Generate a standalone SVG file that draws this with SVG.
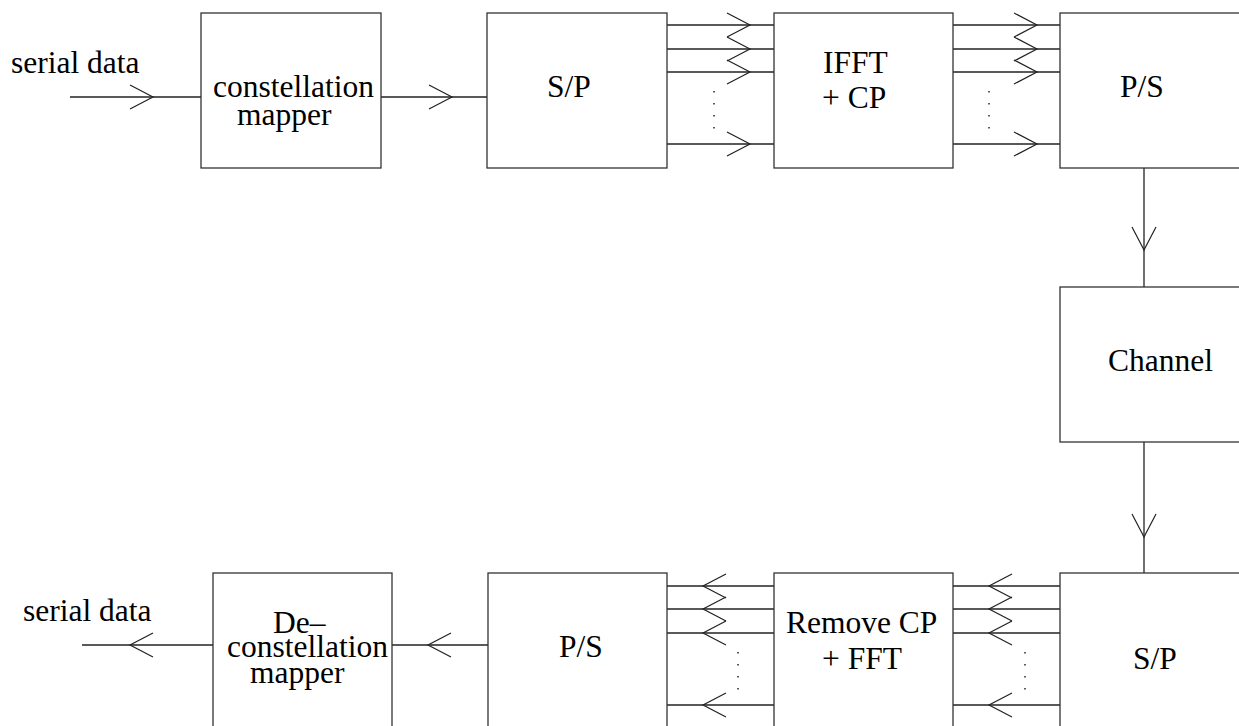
<svg xmlns="http://www.w3.org/2000/svg" width="1239" height="726" viewBox="0 0 1239 726">
<style>
.box{fill:#fff;stroke:#333;stroke-width:1.3}
.ln{stroke:#222;stroke-width:1.3;fill:none}
.ah{stroke:#222;stroke-width:1.2;fill:none}
.dot{stroke:#333;stroke-width:1.6;fill:none;stroke-dasharray:1.5 10.5}
.t{font-family:'Liberation Serif',serif;font-size:31.5px;fill:#000}
</style>
<defs>
<path id="ah" class="ah" d="M-23,-12 L0,0 L-23,12"/>
</defs>
<rect width="1239" height="726" fill="#fff"/>
<g id="connectors">
<line class="ln" x1="70" y1="97" x2="201" y2="97"/>
<use href="#ah" transform="translate(153,97)"/>
<line class="ln" x1="381" y1="97" x2="487" y2="97"/>
<use href="#ah" transform="translate(452,97)"/>
<line class="ln" x1="667" y1="25" x2="774" y2="25"/>
<line class="ln" x1="667" y1="49" x2="774" y2="49"/>
<line class="ln" x1="667" y1="72" x2="774" y2="72"/>
<line class="ln" x1="667" y1="144" x2="774" y2="144"/>
<use href="#ah" transform="translate(750,25)"/>
<use href="#ah" transform="translate(750,49)"/>
<use href="#ah" transform="translate(750,72)"/>
<use href="#ah" transform="translate(750,144)"/>
<line class="dot" x1="714" y1="91" x2="714" y2="130"/>
<line class="ln" x1="953" y1="25" x2="1060" y2="25"/>
<line class="ln" x1="953" y1="49" x2="1060" y2="49"/>
<line class="ln" x1="953" y1="72" x2="1060" y2="72"/>
<line class="ln" x1="953" y1="144" x2="1060" y2="144"/>
<use href="#ah" transform="translate(1037,25)"/>
<use href="#ah" transform="translate(1037,49)"/>
<use href="#ah" transform="translate(1037,72)"/>
<use href="#ah" transform="translate(1037,144)"/>
<line class="dot" x1="989" y1="91" x2="989" y2="130"/>
<line class="ln" x1="1144" y1="168" x2="1144" y2="287"/>
<use href="#ah" transform="translate(1144,250) rotate(90)"/>
<line class="ln" x1="1144" y1="442" x2="1144" y2="573"/>
<use href="#ah" transform="translate(1144,537) rotate(90)"/>
<line class="ln" x1="953" y1="586" x2="1060" y2="586"/>
<line class="ln" x1="953" y1="609" x2="1060" y2="609"/>
<line class="ln" x1="953" y1="633" x2="1060" y2="633"/>
<line class="ln" x1="953" y1="705" x2="1060" y2="705"/>
<use href="#ah" transform="translate(989,586) rotate(180)"/>
<use href="#ah" transform="translate(989,609) rotate(180)"/>
<use href="#ah" transform="translate(989,633) rotate(180)"/>
<use href="#ah" transform="translate(989,705) rotate(180)"/>
<line class="dot" x1="1025" y1="652" x2="1025" y2="691"/>
<line class="ln" x1="667" y1="586" x2="774" y2="586"/>
<line class="ln" x1="667" y1="609" x2="774" y2="609"/>
<line class="ln" x1="667" y1="633" x2="774" y2="633"/>
<line class="ln" x1="667" y1="705" x2="774" y2="705"/>
<use href="#ah" transform="translate(703,586) rotate(180)"/>
<use href="#ah" transform="translate(703,609) rotate(180)"/>
<use href="#ah" transform="translate(703,633) rotate(180)"/>
<use href="#ah" transform="translate(703,705) rotate(180)"/>
<line class="dot" x1="738" y1="652" x2="738" y2="691"/>
<line class="ln" x1="392" y1="645" x2="488" y2="645"/>
<use href="#ah" transform="translate(428,645) rotate(180)"/>
<line class="ln" x1="82" y1="645" x2="213" y2="645"/>
<use href="#ah" transform="translate(130,645) rotate(180)"/>
</g>
<g id="label-in"><text class="t" font-family="Liberation Serif, serif" x="11" y="73">serial data</text></g>
<g id="mapper">
<rect class="box" x="201" y="13" width="180" height="155"/>
<text class="t" font-family="Liberation Serif, serif" x="213" y="97">constellation</text>
<text class="t" font-family="Liberation Serif, serif" x="237" y="125">mapper</text>
</g>
<g id="sp-tx">
<rect class="box" x="487" y="13" width="180" height="155"/>
<text class="t" font-family="Liberation Serif, serif" x="547" y="97">S/P</text>
</g>
<g id="ifft">
<rect class="box" x="774" y="13" width="179" height="155"/>
<text class="t" font-family="Liberation Serif, serif" x="823" y="73">IFFT</text>
<text class="t" font-family="Liberation Serif, serif" x="822" y="108">+ CP</text>
</g>
<g id="ps-tx">
<rect class="box" x="1060" y="13" width="185" height="155"/>
<text class="t" font-family="Liberation Serif, serif" x="1120" y="97">P/S</text>
</g>
<g id="channel">
<rect class="box" x="1060" y="287" width="185" height="155"/>
<text class="t" font-family="Liberation Serif, serif" x="1108" y="371">Channel</text>
</g>
<g id="sp-rx">
<rect class="box" x="1060" y="573" width="185" height="160"/>
<text class="t" font-family="Liberation Serif, serif" x="1133" y="669">S/P</text>
</g>
<g id="fft">
<rect class="box" x="774" y="573" width="179" height="160"/>
<text class="t" font-family="Liberation Serif, serif" x="786" y="633">Remove CP</text>
<text class="t" font-family="Liberation Serif, serif" x="822" y="669">+ FFT</text>
</g>
<g id="ps-rx">
<rect class="box" x="488" y="573" width="179" height="160"/>
<text class="t" font-family="Liberation Serif, serif" x="559" y="657">P/S</text>
</g>
<g id="demapper">
<rect class="box" x="213" y="573" width="179" height="160"/>
<text class="t" font-family="Liberation Serif, serif" x="273" y="633">De–</text>
<text class="t" font-family="Liberation Serif, serif" x="227" y="657">constellation</text>
<text class="t" font-family="Liberation Serif, serif" x="250" y="683">mapper</text>
</g>
<g id="label-out"><text class="t" font-family="Liberation Serif, serif" x="23" y="621">serial data</text></g>
</svg>
